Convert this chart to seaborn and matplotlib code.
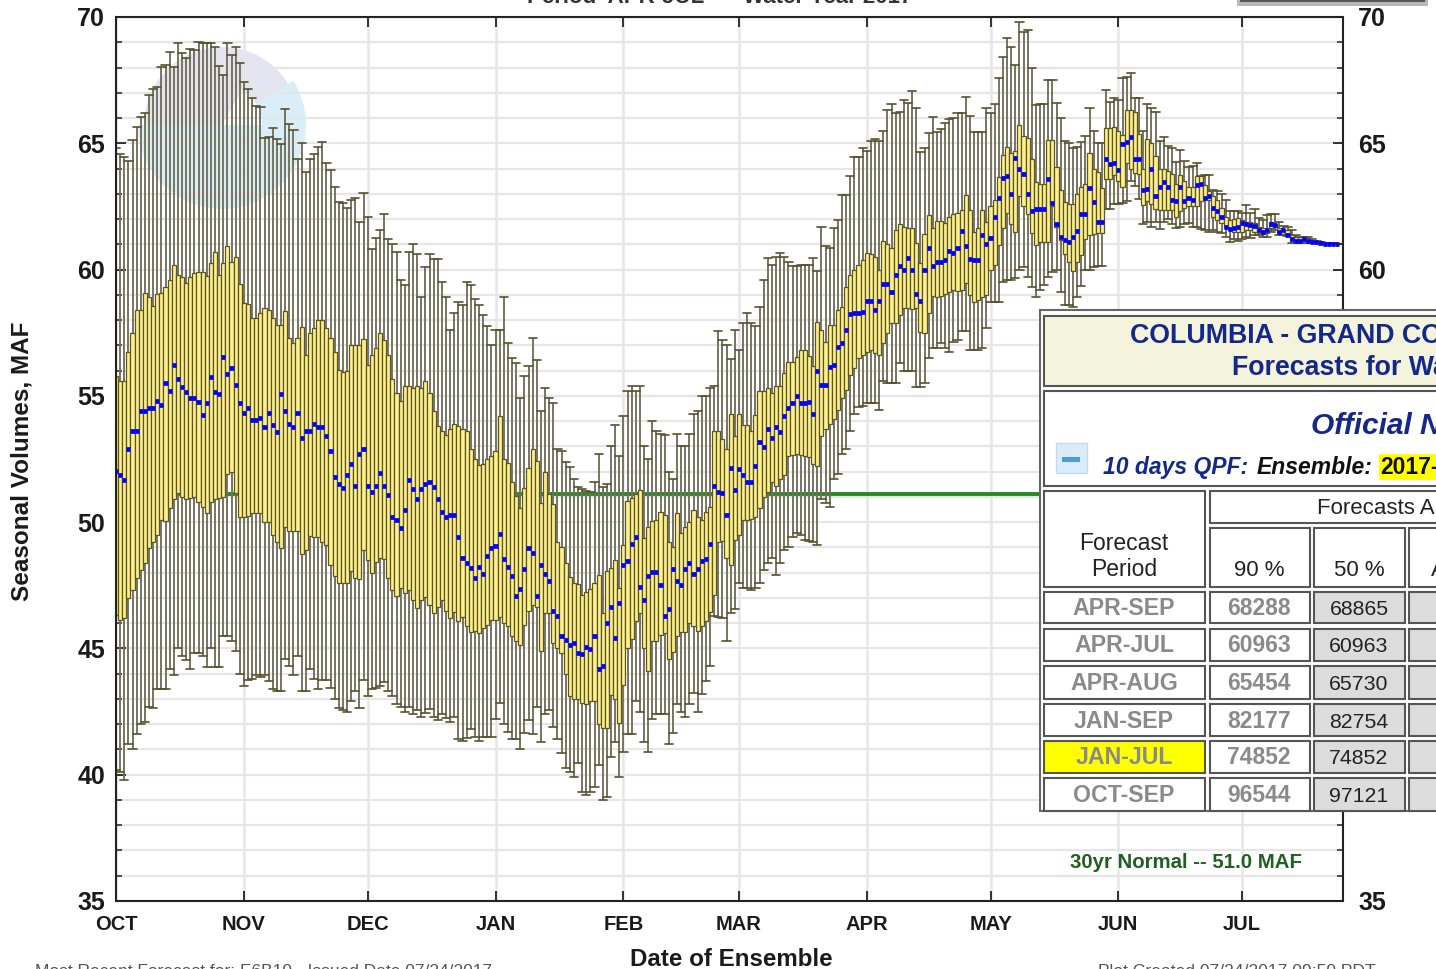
import numpy as np
import pandas as pd
import matplotlib
matplotlib.use("Agg")
import matplotlib.pyplot as plt
from matplotlib.patches import Rectangle, Wedge
import seaborn as sns

# one value per day, Oct 1 .. Jul 24, each line is one month
high_whisker = [
    64.8,64.58,64.47,64.29,65.13,65.66,66.05,66.2,66.91,67.14,67.22,68.03,68.1,68.63,68.03,68.96,68.56,68.36,68.72,68.7,69.02,68.96,68.96,68.96,68.83,68.06,67.7,68.96,68.5,68.8,68.17,
    67.44,67.14,66.78,66.48,66.43,65.2,65.24,65.59,65.16,64.97,66.34,65.76,65.53,64.37,65.03,63.88,64.37,64.58,64.87,65.07,64.2,63.94,63.28,62.69,62.65,62.42,62.75,62.82,61.9,63.02,
    62.1,60.8,61.24,61.57,62.2,61.2,61,60.7,59.6,59.4,60.7,61,60.6,58.9,60.1,60.6,60.4,60.4,59.5,58.9,57.6,58.3,58.7,58.6,59.5,59.4,58.85,58.6,58.2,57.75,57,
    57.6,57.6,58.9,57.1,56.5,56.3,54.9,55.8,56.2,57.3,56.4,54.4,55.3,54.9,54.7,52.9,52.8,52.4,52.2,51.7,51.4,51.3,51.25,51.2,51.6,52.7,51.4,51.5,53,53.85,52.6,
    54.2,55.2,55.4,55.2,55.4,53,52.5,54,53.6,53.5,53.45,52,51.7,53.5,53,53,53.5,54.3,54.4,55,55,55.3,55.4,57.55,57.2,57,56.45,57.6,
    56.8,57.9,58.27,57.9,57.77,58.5,59.6,60.44,60.2,60.5,60.66,60.5,60.28,60.15,60.15,60.2,60.2,60.2,60.44,59.94,61.7,60.94,60.86,61.63,61.96,62.97,62.95,63.7,64.44,64.44,64.8,
    64.7,65.1,65.15,65.1,65.5,66.3,66.55,66.2,66.25,66.7,66.6,67.07,66.4,64.66,64.8,65.4,66.05,65.45,65.55,65.8,65.95,66,66.2,66.2,66.84,66.1,65.45,65.43,65.45,66.4,
    66.2,66.56,67.6,68.43,69.15,68.8,68.1,69.8,69.4,69.5,68,66.5,66.56,66.56,67.5,67.5,66.6,66,65.1,65,64.8,64.85,65.07,65.3,66.4,65.5,65,65,67.1,66.65,66.8,
    66.7,67.6,67.64,67.8,66.78,66.78,65.5,66.55,66.4,66.25,65.1,65.24,64.9,64.8,64.27,64.73,64.3,64.07,64.1,64.2,63.72,63.75,63.75,63.15,63.1,63,62.75,62.3,62.3,62.3,
    62.23,62.56,62.23,62.4,62.03,61.96,62.16,62.2,62.2,61.9,61.73,61.7,61.57,61.37,61.28,61.28,61.28,61.2,61.15,61.1,61.05,61.05,61.04,61.03,
]
q3_top = [
    55.8,55.6,55.6,56.75,57.5,58.4,58.4,59.06,58.93,58.56,59.03,59.06,59.3,59.6,60.18,59.78,59.7,59.48,59.72,59.85,59.92,59.92,59.75,60.25,60.71,59.78,60.25,60.93,60.3,60.5,59.43,
    58.69,58.64,58.07,58.07,58.27,58.47,58.4,58.07,57.8,57.8,58.34,57.28,57.08,57.3,57.74,56.62,57.5,57.68,58,58,57.68,57.28,56.75,56.03,55.96,56,57,57,57,57.24,
    56.23,56.62,56.9,57.48,57.2,56.6,55.65,55.1,54.8,55.4,55.4,55.3,55.4,55.3,55.6,55.1,54.4,53.8,53.6,53.45,53.7,53.9,53.8,53.7,53.6,52.9,52.5,52.26,52.3,52.5,52.6,
    52.8,54.2,52.5,52.36,51.57,51.04,50.55,51.34,52.13,52.9,52.44,50.75,51.97,51.1,50.7,49.23,49,48.37,47.84,47.58,47.55,47.12,47.25,47.34,47.6,47.9,46.4,48.08,48.2,48.5,47.4,
    49.1,50.85,50.95,51.1,51.28,49.36,49.8,50.06,50.1,50.4,50.3,49.2,49,50.35,49.56,49.8,50,50.48,50.2,50.1,50.4,50.6,53.6,53.6,53.3,52.9,54.3,53.4,
    54.3,53.85,53.85,53.6,54.25,55.2,55.2,55.3,55.1,55.4,55.4,55.9,56.36,56.36,56.53,56.8,56.8,56.56,56.2,57.93,57.6,57.14,57.8,57.8,58.4,58.5,59.3,59.8,60,60.2,60.37,
    60.64,60.6,60.48,60,61.13,61.03,60.84,61.56,61.8,61.7,61.63,61.63,61.06,60.27,61.4,62.16,61.65,61.93,61.93,61.83,62.1,62.2,62.25,62.35,62.95,62.35,61.5,61.63,62.35,61.9,
    62.5,62.75,63.68,64.54,64.87,64.6,64.7,65.72,65.29,65.2,64.37,63.48,63.4,63.4,65.13,65.13,64.08,63.15,62.69,62.6,62.6,63,63.28,63.4,64.6,64,63.88,63.22,65.59,65.6,65.66,
    65.5,65.33,66.32,66.3,66.25,65.37,64,65.16,65,64.5,63.97,63.97,63.9,63.8,63.4,63.74,63.5,63.28,63.28,63.7,63.7,63.35,63.1,62.9,62.75,62.43,62.1,61.96,62,62.03,
    61.96,61.9,61.9,61.83,61.7,61.65,61.57,61.9,61.76,61.66,61.6,61.57,61.37,61.3,61.27,61.27,61.25,61.15,61.12,61.1,61.04,61.04,61.03,61.02,
]
median_val = [
    52.04,51.87,51.65,52.9,53.6,53.6,54.4,54.4,54.5,54.5,54.8,54.63,55.5,55.2,56.23,55.66,55.37,55.14,54.9,54.9,54.77,54.26,54.7,55.73,55.14,55.07,56.53,55.87,56.1,55.43,54.7,
    54.34,54.5,54.05,54.05,54.14,53.76,54.34,53.84,53.55,55.07,54.4,53.9,53.76,54.34,53.32,53.6,53.6,53.9,53.76,53.76,53.4,52.82,51.8,51.5,51.36,51.87,52.3,51.44,52.68,52.9,
    51.44,51.2,51.44,51.94,51.44,51.08,50.2,50.07,49.76,50.5,51.67,51.3,50.9,51.3,51.5,51.6,51.4,50.9,50.4,50.2,50.3,50.3,49.4,48.6,48.4,48.2,47.8,48.24,47.95,48.67,48.97,
    49.06,49.55,48.53,48.24,47.88,47.08,47.37,48.16,48.97,48.76,47.08,48.32,47.95,47.66,46.5,46.29,45.48,45.34,45.13,45.2,44.82,44.76,45.05,44.98,45.48,44.18,44.32,45.99,46.64,45.42,46.79,
    48.32,48.46,49.12,49.41,47.45,46.93,47.88,48.03,48.03,47.51,46.29,46.56,48.16,47.66,47.51,48.16,48.39,47.95,48.16,48.46,48.53,49.12,51.43,51.21,51.14,50.27,52.16,51.29,
    52.1,51.87,51.58,51.58,52.24,53.18,52.97,53.7,53.32,53.77,53.55,54.2,54.5,54.7,55,54.7,54.7,54.77,54.27,56,55.43,55.43,56.15,56.22,56.94,57.1,57.6,58.26,58.3,58.3,58.33,
    58.76,58.76,58.4,58.76,59.42,59.42,59.12,59.78,60.15,60,60.44,60,59.05,58.76,60,60.86,60.15,60.28,60.28,60.37,60.73,60.66,60.86,61.53,60.94,60.4,60.36,60.36,61.38,61.03,
    61.24,62.1,62.85,63.64,63.72,63,64.43,64,63.8,63,62.33,62.39,62.4,62.4,63.57,62.62,61.8,61.3,61.17,61.1,61.3,61.54,62.19,62.19,63.22,62.69,61.9,61.9,64.37,64.17,64.23,
    63.95,64.97,65.07,65.26,64.37,64.37,63.15,63.18,64,62.9,63.28,63.48,63.28,62.75,62.7,63.28,62.7,62.82,62.75,63.35,63.4,62.82,62.75,62.43,62.3,62.1,61.67,61.6,61.63,61.7,
    61.86,61.8,61.75,61.72,61.57,61.5,61.43,61.8,61.8,61.5,61.57,61.37,61.2,61.15,61.15,61.2,61.13,61.09,61.08,61.04,61.03,61.01,61.01,61.01,
]
q1_bottom = [
    46.33,46.13,46.2,47,47.3,47.8,48.1,48.4,48.97,49.2,49.5,50.1,50.06,50.55,50.9,51.15,51,50.9,50.95,51,50.8,50.6,50.35,50.8,50.9,50.95,51,51.9,52,51.15,50.2,
    50.2,50.25,50.35,50.35,50.35,50,50,49.5,49.2,48.97,49.8,49.65,49.63,49.63,48.75,48.9,49.46,49.4,49.4,49.2,49.1,48.3,47.85,47.6,47.58,47.58,48.05,47.8,47.75,48.9,
    48.5,48,48.44,48.57,48.53,47.8,47.32,47.08,47.4,47.2,47.3,46.9,46.6,46.9,47.05,46.7,46.4,46.65,46.9,46.5,46.2,46.45,46.1,46.25,45.9,45.65,45.7,45.6,45.8,45.93,46.13,
    46.13,46.26,46,45.87,45.5,45.3,45.14,45.93,46.5,46.7,46.66,44.9,46.4,46.4,45.2,45,44.8,44,43.1,43,43,42.85,42.8,42.9,42.9,42,41.85,41.84,43.15,43,42.06,
    43.55,45,45.36,46.1,46.4,45,44.1,45.3,45.3,45.55,45.6,44.6,44.85,45.5,45.67,45.67,46,45.9,45.7,45.9,46.1,46.46,47.1,49.2,49.25,48.6,48.3,49.3,
    49.5,50.1,50.1,50.13,50.2,50.55,51,51.2,51.6,51.44,51.7,51.87,52.6,52.65,52.7,52.65,52.6,52.57,52.3,52.24,53.4,53.7,53.9,54.1,54.45,54.9,55.24,55.83,56.1,56.5,56.6,
    56.75,56.82,56.7,56.6,57.08,57.5,57.9,57.87,58.2,58.46,58.46,58.45,58.46,57.54,57.47,58.3,58.95,58.92,58.95,59.05,59.1,59.2,59.15,59.2,59.45,59,58.72,58.8,58.9,59,
    60,60.2,60.97,61.63,62.23,61.8,61.5,62.9,62.5,62.2,61.44,60.97,61.1,61.1,61.1,62.5,61.7,61.17,60.6,60.3,59.96,60.3,60.58,61.2,61.37,61.4,61.44,61.44,63.57,63.6,63.74,
    63.5,63.28,64.2,64,63.84,63.8,62.56,62.7,62.6,62.4,62.36,62.36,62.36,62.36,62.1,62.3,62.43,62.5,62.5,62.5,62.7,62.85,62.9,62.1,61.96,61.83,61.65,61.57,61.5,61.5,
    61.5,61.55,61.57,61.5,61.45,61.4,61.57,61.65,61.7,61.44,61.4,61.37,61.1,61.1,61.1,61.1,61.08,61.05,61.04,61.03,61.03,61.02,61.01,61,
]
low_whisker = [
    40.2,40.1,39.8,41.2,41,41.6,42,42.07,42.7,42.66,43.4,43.4,43.4,44.2,43.95,45,44.7,44.55,44.18,44.8,44.8,44.7,44.25,45,44.25,44.25,45.5,45.5,45.3,44.9,44,
    43.5,43.75,43.8,43.95,43.85,43.95,43.7,43.4,43.3,43.3,44.6,44.3,43.95,44.7,43.3,43.3,44.18,43.8,43.4,43.75,43.75,43.45,43,42.63,42.55,42.5,42.9,43.3,42.63,43.75,
    43.1,43.4,43.45,43.5,43.66,43.3,43.1,42.8,42.7,42.5,42.7,42.4,42.55,42.3,42.45,42.6,42.3,42.15,42.4,42.25,42.1,42.3,41.4,41.35,41.45,41.8,41.5,41.35,41.5,41.5,41.5,
    42.2,42.85,42,41.7,41.4,41.4,41,41.64,42.15,41.6,42.7,41.3,42.4,42.55,41.9,41.4,40.85,40.25,40.1,39.9,40.45,39.3,39.2,39.3,39.5,40.4,39,39.1,40.7,41.3,39.9,
    40.9,41.6,41.6,42.9,42.5,41.3,40.9,42.2,42.4,42.4,42.4,41.2,41.65,42.8,42.5,42.3,42.8,43.25,42.5,43.2,43.7,44.3,46.3,46.25,46.2,45.3,46.4,46.56,
    47.6,47.4,47.4,47.3,47.4,47.6,48.1,48.4,48.6,47.9,48.4,48.9,49,49.4,49.56,49.5,49.3,49.27,49.2,49.1,50.9,50.75,50.6,51.7,51.9,52.7,52.9,53.6,54.3,54.55,54.6,
    54.7,54.7,54.7,54.45,55.57,55.5,55.5,55.5,56.3,56,56,56,55.37,55.37,55.5,56.5,56.9,56.9,57.1,56.9,56.75,57.15,57.2,57.55,57.55,56.8,56.8,56.8,56.9,57.7,
    58.7,58.7,58.7,59.5,59.6,59.6,59.65,60,60.1,59.7,59.3,58.9,59.2,59.4,59.7,59.9,59.98,59.1,58.6,58.6,58.5,58.9,59.35,60,60,60.1,60.15,60.15,62.4,62.4,62.6,
    62.6,62.65,62.7,63.5,63.3,62.8,61.8,61.9,61.7,61.9,61.6,61.9,62,61.8,61.64,61.7,61.8,61.83,61.7,61.67,61.6,61.55,61.5,61.55,61.5,61.45,61.3,61.1,61.2,61.15,
    61.2,61.3,61.25,61.37,61.35,61.28,61.3,61.5,61.57,61.37,61.35,61.33,61.04,61.05,61.05,61.07,61.06,61.05,61.04,61.04,61.03,61.02,61.01,61,
]

month_labels = ["OCT", "NOV", "DEC", "JAN", "FEB", "MAR", "APR", "MAY", "JUN", "JUL"]
month_days = [0, 31, 61, 92, 123, 151, 182, 212, 243, 273]
normal_value = 51.1

period_names = ["APR-SEP", "APR-JUL", "APR-AUG", "JAN-SEP", "JAN-JUL", "OCT-SEP"]
forecast_90 = ["68288", "60963", "65454", "82177", "74852", "96544"]
forecast_50 = ["68865", "60963", "65730", "82754", "74852", "97121"]

days = np.arange(len(median_val))
assert len(high_whisker) == len(q3_top) == len(median_val) == len(q1_bottom) == len(low_whisker) == 297

df = pd.DataFrame({
    "day": np.tile(days, 5),
    "value": low_whisker + q1_bottom + median_val + q3_top + high_whisker,
})

sns.set_theme(style="white")
plt.rcParams["font.family"] = ["Liberation Sans"]

W, H = 1436, 969
fig = plt.figure(figsize=(W / 100, H / 100), dpi=100, facecolor="white")

# faint logo behind the plot, in pixel coordinates
bg = fig.add_axes([0, 0, 1, 1], zorder=0)
bg.set_xlim(0, W)
bg.set_ylim(H, 0)
bg.axis("off")
bg.add_patch(Wedge((222, 125), 78, -180, -28, facecolor="#e4e4f1", edgecolor="none"))
bg.add_patch(Wedge((222, 125), 84, -32, 180, facecolor="#d9eef8", edgecolor="none"))
bg.add_patch(Wedge((222, 125), 40, -60, 0, facecolor="white", edgecolor="none"))

ax = fig.add_axes([116 / W, (H - 901) / H, (1343 - 116) / W, (901 - 17) / H], zorder=1)
ax.patch.set_visible(False)

ax.hlines(np.arange(35, 71), 0, 297.45, color="#e6e6e6", linewidth=1.6, zorder=0.5)
ax.vlines(month_days, 35, 70, color="#e6e6e6", linewidth=1.8, zorder=0.5)
ax.axhline(normal_value, color="#228b22", linewidth=2.8, zorder=1)

sns.boxplot(
    data=df,
    x="day",
    y="value",
    native_scale=True,
    whis=(0, 100),
    width=1.0,
    color="#FFF08A",
    saturation=1,
    linecolor="#5a5628",
    linewidth=0.9,
    fliersize=0,
    capwidths=2.0,
    boxprops={"zorder": 2},
    whiskerprops={"zorder": 1.5, "color": "#72705a", "linewidth": 1.35},
    capprops={"zorder": 1.6, "color": "#55522c", "linewidth": 1.2},
    medianprops={"zorder": 2.5, "color": "#0000ff", "linewidth": 3.4, "solid_capstyle": "butt"},
    ax=ax,
)

ax.set_xlim(0, 297.45)
ax.set_ylim(35, 70)
ax.set_xlabel("")
ax.set_ylabel("")
ax.set_xticks(month_days)
ax.set_xticklabels(month_labels, fontweight="bold", fontsize=14.5, color="#1a1a1a")
ax.set_yticks(np.arange(35, 71, 5))
ax.set_yticks(np.arange(35, 71), minor=True)
ax.set_yticklabels([str(v) for v in range(35, 71, 5)], fontweight="bold", fontsize=18, color="#1a1a1a")
ax.tick_params(axis="x", which="major", direction="in", length=7.5, width=1.3, top=True, bottom=True, pad=10, color="#222222")
ax.tick_params(axis="y", which="major", direction="in", length=7.5, width=1.3, left=True, right=False, pad=8, color="#222222")
ax.tick_params(axis="y", which="minor", direction="in", length=4.5, width=1.1, left=True, right=False, color="#222222")
for spine in ax.spines.values():
    spine.set_linewidth(1.5)
    spine.set_color("#222222")
    spine.set_zorder(5)

# labels 40 to 55 sit behind the table in the original
right = ax.twinx()
right.patch.set_visible(False)
right.set_ylim(35, 70)
right.set_yticks([35, 60, 65, 70])
right.set_yticks(np.arange(35, 71), minor=True)
right.set_yticklabels(["35", "60", "65", "70"], fontweight="bold", fontsize=18, color="#1a1a1a")
right.tick_params(axis="y", which="major", direction="in", length=7.5, width=1.3, pad=11, color="#222222")
right.tick_params(axis="y", which="minor", direction="in", length=4.5, width=1.1, color="#222222")
right.grid(False)
for spine in right.spines.values():
    spine.set_visible(False)

# everything else is placed in image pixels
top = fig.add_axes([0, 0, 1, 1], zorder=3)
top.set_xlim(0, W)
top.set_ylim(H, 0)
top.axis("off")
top.patch.set_visible(False)

top.text(22, 461, "Seasonal Volumes, MAF", rotation=90, ha="center", va="center", fontweight="bold", fontsize=17.5, color="#1a1a1a")
top.text(731, 959, "Date of Ensemble", ha="center", va="center", fontweight="bold", fontsize=17.4, color="#1a1a1a")
top.text(1186, 863, "30yr Normal -- 51.0 MAF", ha="center", va="center", fontweight="bold", fontsize=14.7, color="#1f5f1f")
top.text(527, 3, "Period  APR-JUL  --  Water Year 2017", ha="left", va="baseline", fontweight="bold", fontsize=16, color="#333333")
top.text(35, 964, "Most Recent Forecast for: E6B10 - Issued Date 07/24/2017", ha="left", va="top", fontsize=12.5, color="#555555")
top.text(1098, 964, "Plot Created 07/24/2017 09:50 PDT", ha="left", va="top", fontsize=12.6, color="#555555")

# bit of a grey box cut off at the top
top.add_patch(Rectangle((1237, -1), 191, 6.5, facecolor="#b8b8b8", edgecolor="none"))
top.add_patch(Rectangle((1240, -1), 185, 2.5, facecolor="#555555", edgecolor="none"))


def cell(x0, y0, x1, y1, fill="white", edge="#555555", lw=1.5, z=4):
    top.add_patch(Rectangle((x0, y0), x1 - x0, y1 - y0, facecolor=fill, edgecolor=edge, linewidth=lw, zorder=z))


# forecast table, runs off the right side of the image
cell(1040, 310, W + 20, 811, fill="white", edge="#666666", lw=1.5, z=3.5)
cell(1044, 316, W + 20, 386, fill="#f4f4dc")
cell(1044, 391, W + 20, 486)
cell(1044, 491, 1205, 587)
cell(1210, 491, W + 20, 523)
cell(1210, 528, 1310, 587)
cell(1314, 528, 1405, 587)
cell(1409, 528, W + 20, 587)

navy = "#14288c"
top.text(1130, 336, "COLUMBIA - GRAND COULEE", ha="left", va="center", fontweight="bold", fontsize=19.3, color=navy, zorder=6)
top.text(1232, 368, "Forecasts for Water Year 2017", ha="left", va="center", fontweight="bold", fontsize=19.3, color=navy, zorder=6)
top.text(1311, 426, "Official NWRFC Forecast", ha="left", va="center", fontweight="bold", style="italic", fontsize=21.5, color=navy, zorder=6)
top.add_patch(Rectangle((1056, 443), 31, 30, facecolor="#dcebf8", edgecolor="#c4daf0", linewidth=1, zorder=5))
top.add_patch(Rectangle((1062, 457), 18, 5, facecolor="#4a9be0", edgecolor="none", zorder=6))
top.add_patch(Rectangle((1379, 454), 60, 26, facecolor="#ffff00", edgecolor="none", zorder=5))
top.text(1103, 467, "10 days QPF:", ha="left", va="center", fontweight="bold", style="italic", fontsize=16.5, color=navy, zorder=6)
top.text(1257, 467, "Ensemble:", ha="left", va="center", fontweight="bold", style="italic", fontsize=16.5, color="#111111", zorder=6)
top.text(1380, 467, "2017-", ha="left", va="center", fontweight="bold", fontsize=16.5, color="#111111", zorder=6)
top.text(1317, 508, "Forecasts A", ha="left", va="center", fontsize=16, color="#222222", zorder=6)
top.text(1124, 544, "Forecast", ha="center", va="center", fontsize=16.5, color="#222222", zorder=6)
top.text(1124, 570, "Period", ha="center", va="center", fontsize=16.5, color="#222222", zorder=6)
top.text(1259, 570, "90 %", ha="center", va="center", fontsize=16, color="#222222", zorder=6)
top.text(1359, 570, "50 %", ha="center", va="center", fontsize=16, color="#222222", zorder=6)
top.text(1431, 570, "A", ha="left", va="center", fontsize=16, color="#222222", zorder=6)

row_tops = [592, 629, 666, 704, 741, 778]
row_bottoms = [623, 661, 699, 736, 773, 811]
for i, name in enumerate(period_names):
    y0, y1 = row_tops[i], row_bottoms[i]
    ymid = (y0 + y1) / 2
    cell(1044, y0, 1205, y1, fill="#ffff00" if name == "JAN-JUL" else "white")
    cell(1210, y0, 1310, y1)
    cell(1314, y0, 1405, y1, fill="#dcdcdc")
    cell(1409, y0, W + 20, y1, fill="#dcdcdc")
    top.text(1124, ymid + 1, name, ha="center", va="center", fontweight="bold", fontsize=16.7, color="#8a8a8a", zorder=6)
    top.text(1259, ymid + 1, forecast_90[i], ha="center", va="center", fontweight="bold", fontsize=16.5, color="#8a8a8a", zorder=6)
    top.text(1359, ymid + 2, forecast_50[i], ha="center", va="center", fontsize=15.3, color="#222222", zorder=6)

plt.savefig("out.png", dpi=100)
